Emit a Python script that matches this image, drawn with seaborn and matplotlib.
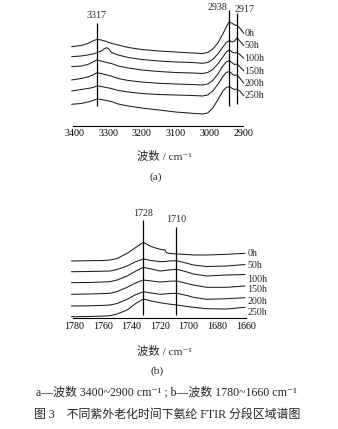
import numpy as np
import pandas as pd
import matplotlib
matplotlib.use("Agg")
import matplotlib.pyplot as plt
import seaborn as sns

sns.set_style("white")
plt.rcParams['font.family'] = ['Liberation Serif', 'Noto Sans CJK SC', 'DejaVu Serif']

# ---------------- data ----------------
times = ["0h", "50h", "100h", "150h", "200h", "250h"]

# panel (a): 3400-2900 cm-1
wn_a = [3408, 3380, 3360, 3345, 3333, 3320, 3310, 3304, 3298, 3290, 3270, 3240, 3200,
        3150, 3100, 3050, 3020, 3005, 2990, 2975, 2960, 2950, 2941, 2932, 2925, 2918,
        2910, 2898]
a_0h = [79.3, 80.5, 82.5, 85, 86.7, 86, 85, 84.5, 83.5, 82.7, 81, 78.5, 76.5,
        75, 74, 73, 72.5, 73.5, 77, 83, 92, 99, 104.3, 102.5, 101, 100.5, 98, 92.7]
a_50h = [69.3, 70, 71, 72, 73.3, 75, 77.5, 78.3, 77, 73.5, 71, 68.5, 66.5,
         65, 64, 63.5, 62.7, 63.5, 66.5, 72, 79, 83.5, 85.5, 84, 85, 88.3, 85, 80.3]
a_100h = [59.3, 60, 61.5, 64, 66, 65, 64, 63.5, 63, 62.5, 60, 58, 56,
          54.5, 53.5, 53, 52.5, 53.5, 56.5, 62, 69, 74, 76, 74, 73, 73.5, 71.5, 67.7]
a_150h = [46, 47.5, 49, 51, 53.3, 52.5, 51.5, 51, 50.5, 49.8, 47.5, 45.5, 44,
          42.7, 42, 41.5, 41, 42, 45.5, 52, 60, 64, 65.5, 63, 61.5, 62, 59.5, 55]
a_200h = [35, 36.5, 37.5, 38.5, 40, 39.5, 38.8, 38.4, 38, 37.5, 35.5, 34, 32.5,
          31.5, 31, 30.5, 30, 31, 35, 41.5, 49.5, 53.5, 54.5, 52, 50.5, 51, 48, 42.7]
a_250h = [21.7, 22.5, 24, 25.5, 27, 26.5, 25.8, 25.4, 25, 24.4, 22, 20, 18,
          16, 14, 12.7, 12, 13, 18, 26, 35, 38.5, 39.3, 37.5, 36.5, 37, 35, 30.3]
peaks_a = [3333, 2941, 2918]
peak_labels_a = ["3317", "2938", "2917"]
ticks_a = [3400, 3300, 3200, 3100, 3000, 2900]

# panel (b): 1780-1660 cm-1
wn_b = [1782, 1770, 1760, 1755, 1750, 1743, 1737.5, 1731.7, 1726, 1720, 1716.5, 1715.5,
        1714, 1708.3, 1701, 1696.7, 1687.3, 1673.3, 1660.5]
b_0h = [57.3, 57.6, 57.8, 58.3, 59.8, 65, 70.3, 76, 71.6, 69, 68.3, 65.6,
        65, 64.3, 63.8, 63.3, 63.3, 64, 65]
b_50h = [46.6, 46.8, 47.1, 47.3, 48.8, 52.3, 56.3, 59.3, 57.8, 56.6, 56.8, 57,
         57.3, 57.6, 55, 53.3, 51.8, 52.3, 53.8]
b_100h = [35.6, 35.8, 36.3, 36.6, 38.3, 42.3, 46.8, 51, 49.3, 47.3, 47.8, 48,
          48.3, 49, 46.3, 44.3, 42.3, 43.3, 43.8]
b_150h = [24, 24.3, 24.7, 25, 26.8, 31, 35, 38.3, 37.3, 36.3, 36.6, 36.8,
          37, 37.3, 34.8, 33.3, 31, 31, 32.3]
b_200h = [12.3, 12.5, 12.9, 13.3, 14.8, 19, 23.3, 26.6, 25.3, 24, 24.3, 24.5,
          24.7, 25, 22.8, 21, 19, 19.6, 20.6]
b_250h = [1.6, 1.8, 2.2, 2.6, 4.3, 8.3, 14.3, 19.3, 17.3, 15.6, 14.8, 14.6,
          14.3, 13.3, 11.8, 11, 9.6, 9.3, 11]
peaks_b = [1731.7, 1708.8]
peak_labels_b = ["1728", "1710"]
ticks_b = [1780, 1760, 1740, 1720, 1700, 1680, 1660]

series_a = [a_0h, a_50h, a_100h, a_150h, a_200h, a_250h]
series_b = [b_0h, b_50h, b_100h, b_150h, b_200h, b_250h]

df_a = pd.concat([pd.DataFrame({"wavenumber": wn_a, "intensity": v, "time": t})
                  for t, v in zip(times, series_a)], ignore_index=True)
df_b = pd.concat([pd.DataFrame({"wavenumber": wn_b, "intensity": v, "time": t})
                  for t, v in zip(times, series_b)], ignore_index=True)

# ---------------- layout ----------------
W, H = 338, 429
fig = plt.figure(figsize=(W / 100, H / 100), dpi=100)


def rect(l, r, top, bottom):
    return [l / W, 1 - bottom / H, (r - l) / W, (bottom - top) / H]


line_col = "#1c1c1c"
fs = 7.2
fs_lab = 8.2
fs_cap = 8.6

ax_a = fig.add_axes(rect(73.3, 243.3, 3, 126))
ax_b = fig.add_axes(rect(72.7, 245.7, 205, 318.3))

for ax, df, xl, yl, ticks in [(ax_a, df_a, (3403, 2899.5), (0, 123), ticks_a),
                              (ax_b, df_b, (1781.1, 1660), (0, 113.3), ticks_b)]:
    sns.lineplot(data=df, x="wavenumber", y="intensity", hue="time",
                 palette=[line_col] * len(times), estimator=None, sort=False,
                 legend=False, lw=0.75, clip_on=False, ax=ax)
    ax.set_xlim(*xl)
    ax.set_ylim(*yl)
    ax.set_xticks(ticks)
    ax.set_xticklabels([str(t) for t in ticks])
    ax.set_yticks([])
    ax.set_xlabel("")
    ax.set_ylabel("")
    for s in ["left", "right", "top"]:
        ax.spines[s].set_visible(False)
    ax.spines["bottom"].set_linewidth(0.8)
    ax.spines["bottom"].set_color("black")
    ax.tick_params(axis="x", direction="in", length=3, width=0.8, labelsize=fs,
                   pad=2.5, colors="black")
    ax.patch.set_alpha(0)

# peak marker lines (a)
ax_a.vlines(peaks_a[0], 20, 103.3, color="black", lw=0.9)
ax_a.vlines(peaks_a[1], 20, 116, color="black", lw=0.9)
ax_a.vlines(peaks_a[2], 22, 113, color="black", lw=0.9)
ax_a.text(peaks_a[0], 111, peak_labels_a[0], ha="center", va="center", fontsize=fs)
ax_a.text(2946, 118.7, peak_labels_a[1], ha="right", va="center", fontsize=fs)
ax_a.text(2895, 117, peak_labels_a[2], ha="center", va="center", fontsize=fs, clip_on=False)

# peak marker lines (b)
ax_b.vlines(peaks_b[0], 3.3, 98.3, color="black", lw=0.9)
ax_b.vlines(peaks_b[1], 3.3, 91.6, color="black", lw=0.9)
ax_b.text(peaks_b[0], 104.3, peak_labels_b[0], ha="center", va="center", fontsize=fs)
ax_b.text(peaks_b[1], 99, peak_labels_b[1], ha="center", va="center", fontsize=fs)

# curve labels
for t, v in zip(times, series_a):
    ax_a.text(2896, v[-1], t, ha="left", va="center", fontsize=fs, clip_on=False)
label_drop_b = [0, 1.2, 4.5, 3.3, 3.3, 5]
for t, v, d in zip(times, series_b, label_drop_b):
    ax_b.text(1659, v[-1] - d, t, ha="left", va="center", fontsize=fs, clip_on=False)

# axis titles / panel tags / caption
xlab = "波数 / cm\u207b\u00b9"
fig.text(164.5 / W, 1 - 156 / H, xlab, ha="center", va="center", fontsize=fs_lab)
fig.text(156 / W, 1 - 176.7 / H, "(a)", ha="center", va="center", fontsize=fs_lab)
fig.text(164.5 / W, 1 - 351.7 / H, xlab, ha="center", va="center", fontsize=fs_lab)
fig.text(156.7 / W, 1 - 371 / H, "(b)", ha="center", va="center", fontsize=fs_lab)
fig.text(166.5 / W, 1 - 392.7 / H,
         "a—波数 3400~2900 cm\u207b\u00b9 ; b—波数 1780~1660 cm\u207b\u00b9",
         ha="center", va="center", fontsize=fs_cap)
fig.text(167.5 / W, 1 - 414.3 / H,
         "图 3　不同紫外老化时间下氨纶 FTIR 分段区域谱图",
         ha="center", va="center", fontsize=fs_cap)

fig.savefig("out.png", dpi=100, facecolor="white")
